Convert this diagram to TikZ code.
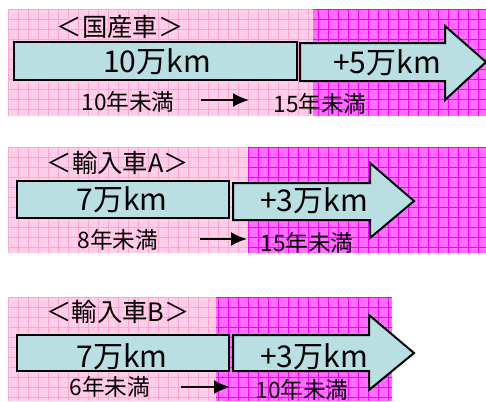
\documentclass[tikz,border=0pt]{standalone}
\usepackage{fontspec}
\setmainfont{Noto Sans CJK JP}
\usetikzlibrary{arrows.meta}
\definecolor{pinkbg}{RGB}{255,206,232}
\definecolor{pinkln}{RGB}{255,165,212}
\definecolor{magbg}{RGB}{255,110,255}
\definecolor{magln}{RGB}{245,0,245}
\definecolor{boxfill}{RGB}{185,223,226}
\newcommand\bgregion[5]{%
  \fill[#5bg] (#1,#2) rectangle (#3,#4);
  \begin{scope}
    \clip (#1,#2) rectangle (#3,#4);
    \foreach \gx in {8,18,...,488} \draw[#5ln, line width=0.55pt] (\gx,#2) -- (\gx,#4);
    \foreach \gy in {0,...,11} \draw[#5ln, line width=0.55pt] (#1,#2+\gy*10) -- (#3,#2+\gy*10);
  \end{scope}}
\begin{document}
\begin{tikzpicture}[x=0.75pt,y=-0.75pt,
  valbox/.style={draw=black, line width=1.5pt, fill=boxfill},
  bigtxt/.style={font=\fontsize{22.5}{26}\selectfont, inner sep=0pt},
  titletxt/.style={font=\fontsize{19}{22}\selectfont, inner sep=0pt},
  smalltxt/.style={font=\fontsize{17}{20}\selectfont, inner sep=0pt},
  yeararrow/.style={line width=1.6pt, -{Latex[length=12pt,width=10.5pt]}}]
\useasboundingbox (0,0) rectangle (486,401);
\fill[white] (0,0) rectangle (486,401);
% panel 1
\bgregion{8}{9}{313}{116}{pink}
\bgregion{313}{9}{486}{116}{mag}
\draw[valbox] (14,42) rectangle (297,80);
\draw[valbox, line join=miter] (300,43) -- (445,43) -- (445,26) -- (486,62) -- (445,100) -- (445,81) -- (300,81) -- cycle;
\node[titletxt] (t1) at (120,27) {＜国産車＞};
\node[bigtxt] (a1) at (157,62) {10万km};
\node[bigtxt] (b1) at (387,63) {+5万km};
\node[smalltxt] (y1) at (128,102) {10年未満};
\node[smalltxt] (z1) at (320,104) {15年未満};
\coordinate (s1) at (201,100);
\coordinate (e1) at (249,100);
\draw[yeararrow] (s1) -- (e1);
% panel 2
\bgregion{8}{147}{248}{253}{pink}
\bgregion{248}{147}{486}{253}{mag}
\draw[valbox] (17,181) rectangle (229,218);
\draw[valbox, line join=miter] (233,183) -- (370,183) -- (370,163) -- (414,201) -- (370,238) -- (370,220) -- (233,220) -- cycle;
\node[titletxt] (t2) at (118,163) {＜輸入車A＞};
\node[bigtxt] (a2) at (122,200) {7万km};
\node[bigtxt] (b2) at (314,201) {+3万km};
\node[smalltxt] (y2) at (118,240) {8年未満};
\node[smalltxt] (z2) at (307,243) {15年未満};
\coordinate (s2) at (200,239);
\coordinate (e2) at (247,239);
\draw[yeararrow] (s2) -- (e2);
% panel 3
\bgregion{8}{297}{216}{401}{pink}
\bgregion{216}{297}{392}{401}{mag}
\draw[valbox] (17,335) rectangle (229,371);
\draw[valbox, line join=miter] (233,335) -- (369,335) -- (369,315) -- (414,353) -- (369,390) -- (369,371) -- (233,371) -- cycle;
\node[titletxt] (t3) at (118,312) {＜輸入車B＞};
\node[bigtxt] (a3) at (122,357) {7万km};
\node[bigtxt] (b3) at (314,357) {+3万km};
\node[smalltxt] (y3) at (110,387) {6年未満};
\node[smalltxt] (z3) at (302,390) {10年未満};
\coordinate (s3) at (181,387);
\coordinate (e3) at (230,387);
\draw[yeararrow] (s3) -- (e3);
\end{tikzpicture}
\end{document}
